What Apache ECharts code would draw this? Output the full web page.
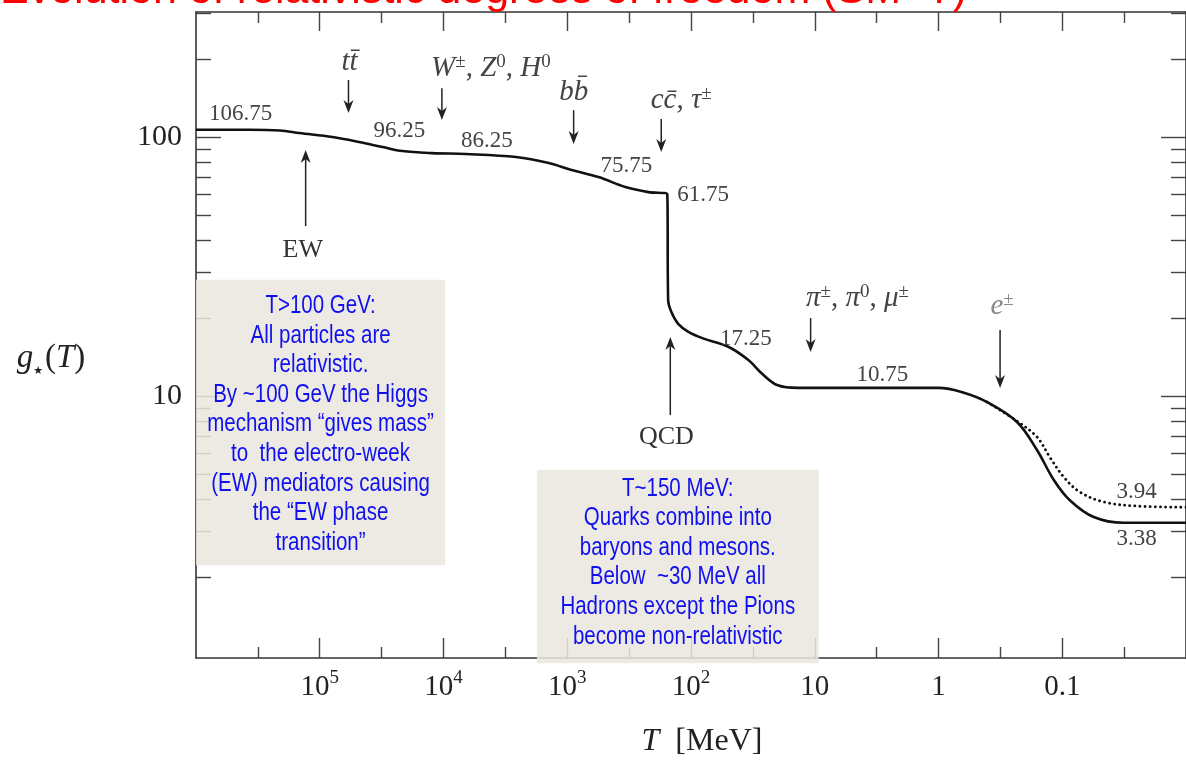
<!DOCTYPE html>
<html><head><meta charset="utf-8">
<script src="https://cdn.jsdelivr.net/npm/echarts@6/dist/echarts.min.js"></script>
<style>html,body{margin:0;padding:0;background:#fff}#c{width:1186px;height:760px}</style>
</head><body><div id="c"></div><script>
// ---------- data (T in MeV, g* dimensionless) ----------
const solidT = [1e6, 3.67e5, 2.1e5, 1.46e5, 7.9e4, 4.8e4, 3.1e4, 2.15e4, 1.24e4, 6.6e3, 2.6e3, 1.41e3, 923, 559, 339, 221, 155.6, 153, 144, 127, 105, 80, 50, 34.6, 26.2, 19.9, 13.7, 1.0, 0.643, 0.405, 0.232, 0.160, 0.117, 0.0869, 0.0557, 0.0319, 0.01];
const solidG = [106.75, 106.75, 106, 103.6, 100, 95.7, 91.5, 88.3, 86.7, 86.0, 83.7, 79.4, 74.6, 70.1, 64.1, 61.3, 60.2, 23.5, 21.1, 19.0, 17.7, 16.7, 15.5, 13.8, 12.1, 11.0, 10.75, 10.75, 10.35, 9.48, 7.94, 6.19, 4.74, 3.96, 3.41, 3.24, 3.24];
const dottedT = [0.405, 0.232, 0.160, 0.126, 0.097, 0.0721, 0.0462, 0.0251, 0.01];
const dottedG = [9.48, 8.0, 6.95, 5.81, 4.86, 4.26, 3.90, 3.76, 3.72];

const xMajorTicks = [1e5, 1e4, 1e3, 1e2, 10, 1, 0.1];
const xMinorTicks = [316228, 31623, 3162.3, 316.23, 31.623, 3.1623, 0.31623, 0.031623];
const yMajorTicks = [10, 100];
const yMinorTicks = [2, 3, 4, 5, 6, 7, 8, 9, 20, 30, 40, 50, 60, 70, 80, 90, 200, 300];

// plateau value labels: text, T, g (anchor = label centre)
const plateauText = ['106.75', '96.25', '86.25', '75.75', '61.75', '17.25', '10.75', '3.94', '3.38'];
const plateauT = [4.35e5, 2.27e4, 4.46e3, 333, 79.8, 36, 2.84, 0.0251, 0.0251];
const plateauG = [122.7, 105.5, 96.5, 77.3, 59.7, 16.6, 12.05, 4.26, 2.81];

// particle annihilation markers (down arrows)
const particleText = ['{i|tt\u0304}', '{i|W}{p|±}{r|, }{i|Z}{p|0}{r|, }{i|H}{p|0}', '{i|bb\u0304}', '{i|cc\u0304}{r|, }{i|τ}{p|±}', '{i|π}{p|±}{r|, }{i|π}{p|0}{r|, }{i|μ}{p|±}', '{e|e}{q|±}'];
const particleLabelT = [5.75e4, 4.14e3, 888, 120, 4.51, 0.306];
const particleLabelG = [195, 184.5, 149, 139, 23.9, 22.1];
const particleArrowT = [5.86e4, 1.03e4, 888, 174, 10.8, 0.318];
const particleArrowFrom = [166, 154.5, 127, 117.3, 20.0, 18.0];
const particleArrowTo = [123.8, 116.3, 94, 87.5, 14.8, 10.74];

// transitions (up arrows)
const transText = ['EW', 'QCD'];
const transLabelT = [1.37e5, 158];
const transLabelG = [36.6, 6.95];
const transArrowT = [1.30e5, 147];
const transArrowFrom = [45.3, 8.45];
const transArrowTo = [89.1, 16.9];

// explanatory boxes
const boxLines = [
  ['T>100 GeV:', 'All particles are', 'relativistic.', 'By ~100 GeV the Higgs', 'mechanism \u201cgives mass\u201d', 'to  the electro-week', '(EW) mediators causing', 'the \u201cEW phase', 'transition\u201d'],
  ['T~150 MeV:', 'Quarks combine into', 'baryons and mesons.', 'Below  ~30 MeV all', 'Hadrons except the Pions', 'become non-relativistic']
];
const boxT1 = [1e6, 1.76e3];
const boxT2 = [9.7e3, 9.29];
const boxG1 = [28.1, 5.18];
const boxG2 = [2.22, 0.93];

const titleText = 'Evolution of relativistic degrees of freedom (SM+T)';

// ---------- chart ----------
const SERIF = '"Liberation Serif", "DejaVu Serif", serif';
const chart = echarts.init(document.getElementById('c'));
const rng = { type: 'log', logBase: 10, inverse: true, min: 0.01, max: 1e6 };
const yr = { type: 'log', logBase: 10, min: 0.974, max: 304 };
const line = { show: true, onZero: false, lineStyle: { color: '#333', width: 1.6 } };
const noLine = { show: false };
const tickStyle = { color: '#444', width: 1.4 };
function xfmt(v) {
  const e = Math.round(Math.log10(v));
  if (e >= 2) return '{b|10}{s|' + e + '}';
  return '{b|' + String(Number(Math.pow(10, e).toPrecision(6))) + '}';
}
chart.setOption({
  animation: false,
  backgroundColor: '#fff',
  grid: { left: 196, right: -4, top: 12, bottom: 102, containLabel: false },
  xAxis: [
    Object.assign({}, rng, { position: 'bottom', axisLine: line,
      axisTick: { show: true, inside: true, length: 20, customValues: xMajorTicks, lineStyle: tickStyle },
      axisLabel: { show: true, customValues: xMajorTicks, margin: 11, formatter: xfmt, color: '#222',
        rich: { b: { fontFamily: SERIF, fontSize: 29, lineHeight: 36, color: '#222' },
                s: { fontFamily: SERIF, fontSize: 19, lineHeight: 19, verticalAlign: 'top', color: '#222' } } },
      splitLine: { show: false } }),
    Object.assign({}, rng, { position: 'bottom', axisLine: noLine,
      axisTick: { show: true, inside: true, length: 11, customValues: xMinorTicks, lineStyle: tickStyle },
      axisLabel: { show: false }, splitLine: { show: false } }),
    Object.assign({}, rng, { position: 'top', axisLine: line,
      axisTick: { show: true, inside: true, length: 19, customValues: xMajorTicks, lineStyle: tickStyle },
      axisLabel: { show: false }, splitLine: { show: false } }),
    Object.assign({}, rng, { position: 'top', axisLine: noLine,
      axisTick: { show: true, inside: true, length: 11, customValues: xMinorTicks, lineStyle: tickStyle },
      axisLabel: { show: false }, splitLine: { show: false } })
  ],
  yAxis: [
    Object.assign({}, yr, { position: 'left', axisLine: line,
      axisTick: { show: true, inside: true, length: 25, customValues: yMajorTicks, lineStyle: tickStyle },
      axisLabel: { show: true, customValues: yMajorTicks, margin: 14, color: '#222', fontFamily: SERIF, fontSize: 30 },
      splitLine: { show: false } }),
    Object.assign({}, yr, { position: 'left', axisLine: noLine,
      axisTick: { show: true, inside: true, length: 15, customValues: yMinorTicks, lineStyle: tickStyle },
      axisLabel: { show: false }, splitLine: { show: false } }),
    Object.assign({}, yr, { position: 'right', axisLine: line,
      axisTick: { show: true, inside: true, length: 25, customValues: yMajorTicks, lineStyle: tickStyle },
      axisLabel: { show: false }, splitLine: { show: false } }),
    Object.assign({}, yr, { position: 'right', axisLine: noLine,
      axisTick: { show: true, inside: true, length: 15, customValues: yMinorTicks, lineStyle: tickStyle },
      axisLabel: { show: false }, splitLine: { show: false } })
  ],
  series: [
    { type: 'line', xAxisIndex: 0, yAxisIndex: 0, data: solidT.map((t, i) => [t, solidG[i]]),
      showSymbol: false, smooth: 0.35, z: 5,
      lineStyle: { color: '#111', width: 2.6 } },
    { type: 'line', xAxisIndex: 0, yAxisIndex: 0, data: dottedT.map((t, i) => [t, dottedG[i]]),
      showSymbol: false, smooth: 0.35, z: 4,
      lineStyle: { color: '#111', width: 2.8, type: [0.1, 5], cap: 'round' } }
  ]
});

function px(t, g) { return chart.convertToPixel({ seriesIndex: 0 }, [t, g]); }
function arrowEls(t, gFrom, gTo) {
  const a = px(t, gFrom), b = px(t, gTo);
  const x = a[0], y1 = a[1], y2 = b[1];
  const d = y2 > y1 ? 1 : -1;
  return [
    { type: 'line', shape: { x1: x, y1: y1, x2: x, y2: y2 - d * 6 }, style: { stroke: '#222', lineWidth: 1.5 }, z: 20 },
    { type: 'polygon', shape: { points: [[x, y2], [x - 5, y2 - d * 13], [x, y2 - d * 9], [x + 5, y2 - d * 13]] },
      style: { fill: '#222' }, z: 20 }
  ];
}
const g = [];
// title (cut off at top of the frame)
g.push({ type: 'text', x: 0, y: -9, z: 30,
  style: { text: titleText, fill: '#ff0000', font: '43px "Liberation Sans", Arial, sans-serif', align: 'left', verticalAlign: 'middle' } });
// axis names
g.push({ type: 'text', x: 51, y: 358, z: 30, style: { text: '{i|g}{st|\u2605}{r|(}{i|T}{r|)}', align: 'center', verticalAlign: 'middle',
  rich: { i: { fontFamily: SERIF, fontStyle: 'italic', fontSize: 33, fill: '#222', lineHeight: 38 },
          r: { fontFamily: SERIF, fontSize: 33, fill: '#222', lineHeight: 38 },
          st: { fontFamily: '"DejaVu Sans", sans-serif', fontSize: 11, fill: '#222', verticalAlign: 'bottom', lineHeight: 22, padding: [0, 2, 0, 0] } } } });
g.push({ type: 'text', x: 702, y: 742, z: 30, style: { text: '{i|T}{g| }{r|[MeV]}', align: 'center', verticalAlign: 'middle',
  rich: { i: { fontFamily: SERIF, fontStyle: 'italic', fontSize: 32, fill: '#222' },
          g: { fontFamily: SERIF, fontSize: 32, width: 16 },
          r: { fontFamily: SERIF, fontSize: 32, fill: '#222' } } } });
// plateau labels
plateauText.forEach((s, i) => {
  const p = px(plateauT[i], plateauG[i]);
  g.push({ type: 'text', x: p[0], y: p[1], z: 20, style: { text: s, font: '23px ' + SERIF, fill: '#444', align: 'center', verticalAlign: 'middle' } });
});
// particle labels + arrows
const richP = {
  i: { fontFamily: SERIF, fontStyle: 'italic', fontSize: 29, fill: '#444', lineHeight: 32 },
  e: { fontFamily: SERIF, fontStyle: 'italic', fontSize: 29, fill: '#888', lineHeight: 32 },
  r: { fontFamily: SERIF, fontSize: 29, fill: '#444', lineHeight: 32 },
  p: { fontFamily: SERIF, fontSize: 19, fill: '#444', verticalAlign: 'top', lineHeight: 19 },
  q: { fontFamily: SERIF, fontSize: 19, fill: '#888', verticalAlign: 'top', lineHeight: 19 }
};
particleText.forEach((s, i) => {
  const p = px(particleLabelT[i], particleLabelG[i]);
  g.push({ type: 'text', x: p[0], y: p[1], z: 20, style: { text: s, rich: richP, align: 'center', verticalAlign: 'middle' } });
  arrowEls(particleArrowT[i], particleArrowFrom[i], particleArrowTo[i]).forEach(e => g.push(e));
});
transText.forEach((s, i) => {
  const p = px(transLabelT[i], transLabelG[i]);
  g.push({ type: 'text', x: p[0], y: p[1], z: 20, style: { text: s, font: '26px ' + SERIF, fill: '#333', align: 'center', verticalAlign: 'middle' } });
  arrowEls(transArrowT[i], transArrowFrom[i], transArrowTo[i]).forEach(e => g.push(e));
});
// boxes
boxLines.forEach((lines, i) => {
  const a = px(boxT1[i], boxG1[i]), b = px(boxT2[i], boxG2[i]);
  const x0 = Math.min(a[0], b[0]), y0 = Math.min(a[1], b[1]);
  const w = Math.abs(b[0] - a[0]), h = Math.abs(b[1] - a[1]);
  g.push({ type: 'rect', shape: { x: x0, y: y0, width: w, height: h }, z: 40,
    style: { fill: 'rgba(234,231,223,0.86)' } });
  const lh = 29.6;
  const cy = i === 0 ? y0 + h / 2 + 2 : y0 + h / 2 - 4;
  g.push({ type: 'text', x: x0 + w / 2, y: cy, z: 41, scaleX: 0.82,
    style: { text: lines.join('\n'), font: '25px "Liberation Sans", Arial, sans-serif', fill: '#1010ee',
      align: 'center', verticalAlign: 'middle', lineHeight: lh } });
});
chart.setOption({ graphic: { elements: g } });
</script></body></html>
